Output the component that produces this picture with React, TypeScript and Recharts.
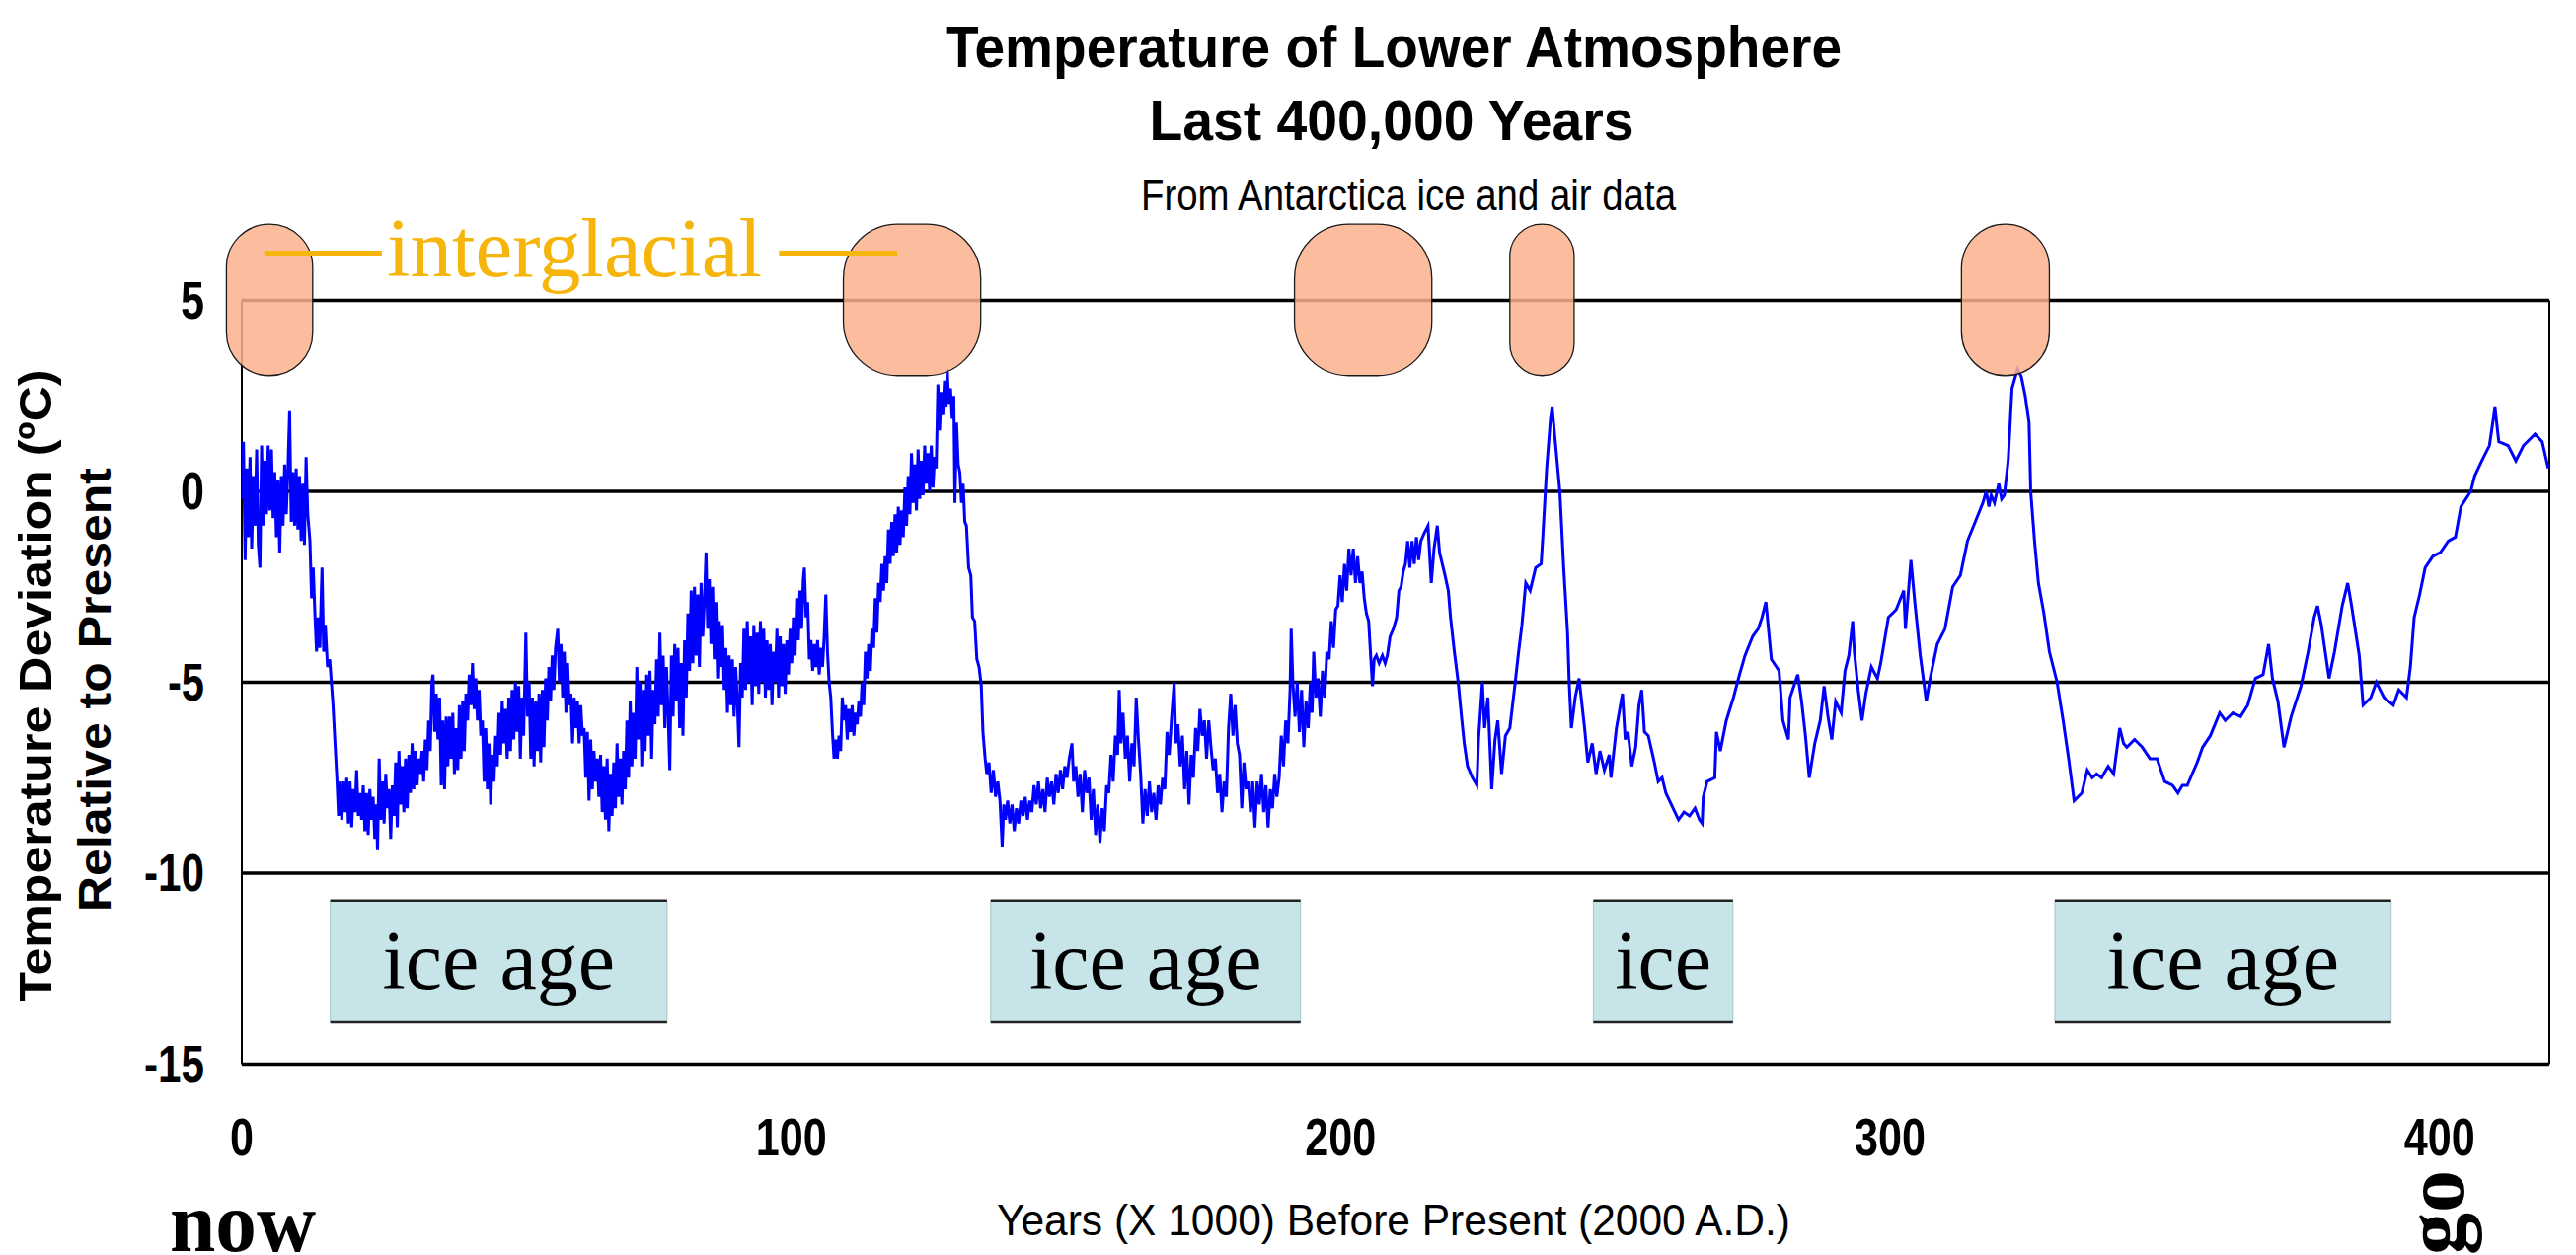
import { LineChart, Line, XAxis, YAxis, CartesianGrid, ReferenceArea, ReferenceLine } from 'recharts';

const W = 2610;
const H = 1272;
const SANS = "'Liberation Sans', Arial, Helvetica, sans-serif";
const SERIF = "'Liberation Serif', 'Times New Roman', serif";

// [thousand years before present, deviation in ºC]
const holocene: [number, number][] = [
  [0.0, -0.2], [0.3, 1.3], [0.6, -1.8], [0.9, 0.6], [1.2, -1.2], [1.5, 0.9], [1.8, -1.5], [2.1, 0.4], [2.4, -0.9], [2.7, 1.1],
  [3.0, -1.4], [3.3, -2.0], [3.6, 1.2], [3.9, -0.9], [4.2, 0.8], [4.5, -0.6], [4.8, 1.2], [5.1, -0.5], [5.4, 1.1], [5.7, -0.7],
  [6.0, 0.5], [6.3, -1.2], [6.6, 0.3], [6.9, -1.6], [7.2, 0.4], [7.5, -0.9], [7.8, 0.7], [8.1, -0.6], [8.4, 0.6], [8.7, 2.1],
  [9.0, -0.8], [9.3, 0.5], [9.6, -0.9], [9.9, 0.6], [10.2, -1.0], [10.5, 0.4], [10.8, -1.3], [11.1, 0.2], [11.4, -1.4], [11.7, 0.9],
  [12.0, -0.6],
];

const lastGlacial: [number, number][] = [
  [12.4, -1.3], [12.7, -2.8], [13.0, -2.0], [13.3, -3.2], [13.6, -4.2], [13.9, -3.3], [14.2, -4.1], [14.6, -2.0], [14.9, -4.2], [15.2, -3.5],
  [15.6, -4.6], [16.0, -4.4], [16.3, -5.0], [16.6, -5.6], [17.0, -6.7], [17.3, -7.5], [17.6, -8.5], [17.9, -7.6], [18.2, -8.6], [18.5, -7.6],
  [18.8, -8.4], [19.1, -7.5], [19.4, -8.7], [19.7, -7.6], [20.0, -8.8], [20.3, -7.8], [20.6, -8.4], [20.9, -7.3], [21.2, -8.5], [21.5, -7.9],
  [21.8, -8.6], [22.1, -7.7], [22.4, -8.9], [22.7, -7.9], [23.0, -9.0], [23.3, -7.8], [23.6, -8.6], [23.9, -8.0], [24.2, -9.1], [24.5, -8.2],
  [24.7, -9.4], [25.0, -7.0], [25.3, -8.6], [25.6, -7.6], [25.9, -8.7], [26.2, -7.4], [26.5, -8.3], [26.8, -7.8], [27.1, -9.1], [27.4, -7.7],
  [27.7, -8.5], [28.0, -7.1], [28.3, -8.8], [28.6, -6.8], [28.9, -8.2], [29.2, -7.2], [29.5, -8.4], [29.8, -7.0], [30.1, -8.3], [30.4, -6.9],
  [30.7, -7.9], [31.0, -6.6], [31.3, -7.8], [31.6, -6.8], [31.9, -7.7], [32.2, -7.0], [32.5, -7.4], [32.8, -6.8], [33.1, -7.6], [33.4, -6.5],
  [33.7, -7.3], [34.0, -6.0], [34.3, -6.8], [34.6, -5.0], [34.8, -4.8], [35.1, -6.3], [35.4, -5.3], [35.7, -6.5], [36.0, -5.4], [36.3, -7.7],
  [36.6, -6.0], [36.9, -7.8], [37.2, -5.9], [37.5, -7.2], [37.8, -5.9], [38.1, -7.0], [38.4, -5.8], [38.7, -7.4], [39.0, -6.2], [39.3, -7.3],
  [39.6, -5.6], [39.9, -7.0], [40.2, -5.5], [40.5, -6.8], [40.8, -5.3], [41.1, -6.0], [41.4, -4.8], [41.7, -5.6], [42.0, -4.5], [42.3, -5.7],
  [42.6, -4.9], [42.9, -6.0], [43.2, -5.2], [43.5, -6.4], [43.8, -6.0], [44.1, -7.6], [44.4, -6.2], [44.7, -7.8], [45.0, -6.6], [45.3, -8.2],
  [45.6, -6.9], [45.9, -7.6], [46.2, -6.4], [46.5, -7.2], [46.8, -5.8], [47.1, -6.9], [47.4, -5.5], [47.7, -6.6], [48.0, -5.7], [48.3, -7.0],
  [48.6, -5.4], [48.9, -6.8], [49.2, -5.2], [49.5, -6.5], [49.8, -5.0], [50.1, -6.3], [50.4, -5.1], [50.7, -7.0], [51.0, -5.4], [51.3, -6.4],
  [51.7, -3.7], [52.0, -5.9], [52.3, -5.0], [52.6, -7.0], [52.9, -5.4], [53.2, -7.2], [53.5, -5.5], [53.8, -6.8], [54.1, -5.3], [54.4, -7.1],
  [54.7, -5.2], [55.0, -6.7], [55.3, -4.9], [55.6, -6.0], [55.9, -4.6], [56.2, -5.5], [56.5, -4.3], [56.8, -5.2], [57.1, -4.1], [57.5, -3.6],
  [57.8, -5.0], [58.1, -4.0], [58.4, -5.4], [58.7, -4.2], [59.0, -5.8], [59.3, -4.5], [59.6, -5.6], [59.9, -5.3], [60.2, -6.6], [60.5, -5.4],
  [60.8, -6.2], [61.1, -5.5], [61.4, -6.6], [61.7, -5.6], [62.0, -6.4], [62.3, -6.2], [62.6, -7.5], [62.9, -6.3], [63.2, -8.1], [63.5, -6.5],
  [63.8, -7.8], [64.1, -6.8], [64.4, -7.6], [64.7, -7.0], [65.0, -8.0], [65.3, -6.9], [65.6, -8.4], [65.9, -7.2], [66.2, -8.6], [66.5, -7.0],
  [66.8, -8.9], [67.1, -7.4], [67.4, -8.5], [67.7, -7.1], [68.0, -8.3], [68.3, -6.6], [68.6, -8.0], [68.9, -7.0], [69.2, -8.2], [69.5, -6.8],
  [69.8, -7.8], [70.1, -6.0], [70.4, -7.5], [70.7, -5.5], [71.0, -7.2], [71.3, -5.8], [71.6, -7.0], [71.9, -4.6], [72.2, -6.5], [72.5, -5.0],
  [72.8, -7.2], [73.1, -5.2], [73.4, -6.8], [73.7, -4.8], [74.0, -6.4], [74.3, -4.7], [74.6, -7.0], [74.9, -5.2], [75.2, -6.1], [75.5, -4.4],
  [75.8, -5.9], [76.1, -3.7], [76.4, -5.6], [76.7, -4.3], [77.0, -6.2], [77.3, -4.6], [77.6, -5.8], [77.9, -7.3], [78.2, -4.3], [78.5, -5.9],
  [78.8, -4.0], [79.1, -5.5], [79.4, -4.1], [79.7, -6.2], [80.0, -4.5], [80.3, -6.4], [80.6, -3.9], [80.9, -5.4], [81.2, -3.2], [81.5, -4.7],
  [81.8, -2.6], [82.1, -4.5], [82.4, -2.5], [82.7, -4.3], [83.0, -2.7], [83.3, -4.6], [83.6, -2.4], [83.9, -3.8], [84.2, -2.9], [84.5, -1.6],
  [84.8, -3.6], [85.1, -2.3], [85.4, -4.0], [85.7, -2.5], [86.0, -4.4], [86.3, -2.9], [86.6, -4.9], [86.9, -3.4], [87.2, -4.6], [87.5, -3.5],
  [87.8, -5.2], [88.1, -4.1], [88.4, -5.8], [88.7, -4.3], [89.0, -5.6], [89.3, -4.4], [89.6, -5.9], [89.9, -4.6], [90.2, -5.5], [90.5, -6.7],
  [90.8, -4.5], [91.1, -5.4], [91.4, -3.6], [91.7, -5.2], [92.0, -3.4], [92.3, -5.0], [92.6, -3.8], [92.9, -5.6], [93.2, -3.5], [93.5, -5.1],
  [93.8, -3.7], [94.1, -5.3], [94.4, -3.4], [94.7, -5.0], [95.0, -3.6], [95.3, -5.4], [95.6, -3.9], [95.9, -5.2], [96.2, -4.0], [96.5, -5.6],
  [96.8, -4.2], [97.1, -5.0], [97.4, -3.6], [97.7, -5.4], [98.0, -3.8], [98.3, -5.1], [98.6, -4.0], [98.9, -5.3], [99.2, -3.9], [99.5, -4.8],
  [99.8, -3.6], [100.1, -4.5], [100.4, -3.3], [100.7, -4.3], [101.0, -2.8], [101.3, -3.9], [101.6, -2.6], [101.9, -3.6], [102.2, -2.3], [102.4, -2.0],
  [102.7, -3.3], [103.0, -2.9], [103.3, -4.4], [103.6, -3.9], [103.9, -4.7], [104.2, -4.0], [104.5, -4.6], [104.8, -3.9], [105.1, -4.8], [105.4, -4.1],
  [105.7, -4.6], [106.0, -3.8], [106.3, -2.7], [106.6, -4.2], [106.9, -5.0],
];

const eemian: [number, number][] = [
  [107.2, -5.4], [107.5, -6.3], [107.8, -7.0], [108.1, -6.5], [108.4, -7.0], [108.7, -6.4], [109.0, -6.8], [109.3, -5.4], [109.6, -6.0], [109.9, -5.6],
  [110.2, -6.5], [110.5, -5.7], [110.8, -6.3], [111.1, -5.6], [111.4, -6.4], [111.7, -5.8], [112.0, -6.1], [112.3, -5.5], [112.6, -5.9], [112.9, -5.0],
  [113.2, -5.6], [113.5, -4.2], [113.8, -4.9], [114.1, -4.0], [114.4, -4.7], [114.7, -3.6], [115.0, -4.1], [115.3, -2.8], [115.6, -3.7], [115.9, -2.4],
  [116.2, -2.9], [116.5, -1.9], [116.8, -2.6], [117.1, -1.7], [117.4, -2.4], [117.7, -1.0], [118.0, -1.9], [118.3, -0.8], [118.6, -1.7], [118.9, -0.6],
  [119.2, -1.6], [119.5, -0.4], [119.8, -1.4], [120.1, -0.5], [120.4, -1.2], [120.7, 0.1], [121.0, -0.9], [121.3, 0.4], [121.6, -0.6], [121.9, 1.0],
  [122.2, -0.3], [122.5, 0.7], [122.8, -0.5], [123.1, 1.1], [123.4, -0.2], [123.7, 0.8], [124.0, -0.1], [124.3, 1.2], [124.6, 0.2], [124.9, 1.0],
  [125.2, 0.0], [125.5, 1.2], [125.8, 0.1], [126.1, 0.9], [126.4, 0.6], [126.7, 2.8], [127.0, 1.6], [127.3, 2.6], [127.6, 2.0], [127.9, 2.9],
  [128.2, 2.2], [128.4, 3.2], [128.7, 2.3], [129.0, 2.7], [129.3, 1.9], [129.6, 2.5], [129.8, -0.3], [130.1, 1.8], [130.4, 0.7], [130.7, 0.5],
  [131.0, -0.3], [131.3, 0.2], [131.6, -0.8], [131.9, -0.9], [132.3, -2.0], [132.7, -2.2], [133.0, -3.3], [133.4, -3.4], [133.8, -4.4], [134.2, -4.6],
  [134.6, -5.1], [134.9, -6.3], [135.3, -7.0],
];

const penultimateGlacial: [number, number][] = [
  [135.6, -7.4], [136.0, -7.1], [136.4, -7.9], [136.8, -7.3], [137.2, -8.0], [137.6, -7.6], [138.0, -8.1], [138.4, -9.3], [138.7, -8.2], [139.0, -8.6],
  [139.4, -8.1], [139.8, -8.7], [140.2, -8.2], [140.6, -8.9], [141.0, -8.3], [141.4, -8.7], [141.8, -8.1], [142.2, -8.5], [142.6, -8.0], [143.0, -8.6],
  [143.4, -8.1], [143.8, -8.4], [144.2, -7.7], [144.6, -8.2], [145.0, -7.6], [145.4, -8.3], [145.8, -7.8], [146.2, -8.4], [146.6, -7.5], [147.0, -8.0],
  [147.4, -7.6], [147.8, -8.2], [148.2, -7.4], [148.6, -7.9], [149.0, -7.3], [149.4, -7.8], [149.8, -7.2], [150.2, -7.5], [150.6, -7.0], [151.1, -6.6],
  [151.4, -7.6], [151.8, -7.2], [152.2, -8.0], [152.6, -7.4], [153.0, -8.4], [153.4, -7.3], [153.8, -7.9], [154.2, -7.5], [154.6, -8.6], [155.0, -7.8],
  [155.4, -9.0], [155.8, -8.2], [156.2, -9.2], [156.6, -8.3], [157.0, -8.9], [157.4, -7.7], [157.8, -7.9], [158.2, -6.9], [158.6, -7.6], [159.0, -6.4],
  [159.4, -6.9], [159.7, -5.2], [160.0, -6.6], [160.4, -5.8], [160.8, -7.0], [161.2, -6.4], [161.6, -7.6], [162.0, -6.6], [162.4, -7.2], [162.8, -5.4],
  [163.2, -6.5], [163.6, -7.4], [164.0, -8.7], [164.4, -7.8], [164.8, -8.5], [165.2, -7.6], [165.6, -8.4], [166.0, -7.9], [166.4, -8.6], [166.8, -7.7],
  [167.2, -8.2], [167.6, -7.5], [168.0, -7.8], [168.4, -6.3], [168.8, -6.9], [169.2, -6.0], [169.7, -5.0], [170.0, -6.6], [170.4, -6.1], [170.8, -7.2],
  [171.2, -6.4], [171.6, -7.8], [172.0, -6.8], [172.4, -8.2], [172.8, -6.9], [173.2, -7.5], [173.6, -6.2], [174.0, -6.8], [174.4, -5.7], [174.8, -6.4],
  [175.2, -6.0], [175.6, -7.0], [176.0, -6.0], [176.4, -6.7], [176.8, -7.3], [177.2, -7.0], [177.6, -7.9], [178.0, -7.4], [178.4, -8.4], [178.8, -7.6],
  [179.2, -8.0], [179.6, -6.2], [180.0, -5.3], [180.4, -6.4], [180.8, -5.6], [181.2, -6.6], [181.6, -6.9], [182.0, -8.3], [182.4, -7.1], [182.8, -7.8],
  [183.2, -7.6], [183.6, -8.4], [184.0, -7.6], [184.4, -8.8], [184.8, -7.6], [185.2, -8.2], [185.6, -7.4], [186.0, -8.4], [186.4, -7.7], [186.8, -8.8],
  [187.2, -7.8], [187.6, -8.3], [188.0, -7.4], [188.4, -8.0], [188.8, -7.5], [189.2, -6.4], [189.6, -7.2], [190.0, -6.0], [190.4, -6.6], [190.8, -5.2],
  [191.0, -3.6], [191.3, -5.0], [191.7, -5.9], [192.1, -5.0], [192.5, -6.3], [192.9, -5.2], [193.3, -6.7], [193.7, -5.5], [194.1, -6.2], [194.5, -5.0],
  [194.8, -5.8], [195.1, -4.2], [195.5, -5.4], [195.9, -4.9], [196.3, -5.9], [196.7, -4.7], [197.1, -5.4], [197.5, -4.2], [197.9, -4.4], [198.3, -3.4],
  [198.7, -4.1], [199.1, -3.1], [199.5, -3.0], [199.9, -2.2], [200.3, -2.9], [200.7, -1.9], [201.1, -2.6], [201.5, -1.5], [201.9, -2.2], [202.3, -1.5],
  [202.7, -2.4],
];

const stage7: [number, number][] = [
  [203.1, -1.7], [203.5, -2.4], [203.9, -2.1], [204.3, -2.8], [204.7, -3.2], [205.1, -3.4], [205.5, -4.4], [205.8, -5.1], [206.1, -4.4], [206.5, -4.3],
  [207.0, -4.5], [207.6, -4.3], [208.1, -4.5], [208.5, -4.3], [209.0, -3.8], [209.6, -3.6], [210.2, -3.3], [210.6, -2.6], [211.0, -2.5], [211.4, -2.1],
  [211.8, -1.9], [212.2, -1.3], [212.6, -2.0], [213.0, -1.3], [213.4, -1.9], [213.8, -1.2], [214.2, -1.8], [214.6, -1.3], [215.2, -1.1], [215.9, -0.9],
  [216.5, -2.4], [217.0, -1.5], [217.6, -0.9], [218.0, -1.6], [219.0, -2.2], [219.6, -2.6], [220.0, -3.3], [220.7, -4.2], [221.4, -5.0], [222.0, -5.9],
  [222.5, -6.6], [223.1, -7.2], [224.0, -7.5], [224.8, -7.7], [225.1, -6.5], [225.8, -5.0], [226.2, -6.2], [226.8, -5.4], [227.5, -7.8], [228.1, -6.5],
  [228.6, -6.0], [229.3, -7.4], [230.0, -6.4], [230.8, -6.2], [231.7, -5.1], [232.4, -4.2], [233.0, -3.5], [233.7, -2.4], [234.5, -2.6], [235.5, -2.0],
  [236.5, -1.9], [236.8, -1.2], [237.5, 0.6], [238.2, 1.9], [238.5, 2.2], [239.2, 1.1], [239.9, 0.0], [240.6, -2.0], [241.3, -3.7], [241.6, -5.0],
  [242.0, -6.2], [242.7, -5.4], [243.4, -4.9], [244.4, -6.2],
];

const glacial3: [number, number][] = [
  [245.0, -7.1], [245.8, -6.6], [246.5, -7.4], [247.2, -6.8], [248.0, -7.3], [248.9, -6.9], [249.2, -7.5], [250.2, -6.2], [251.3, -5.3], [251.8, -6.5],
  [252.3, -6.3], [253.0, -7.2], [253.7, -6.7], [254.3, -5.6], [254.8, -5.2], [255.3, -6.3], [256.0, -6.4], [257.1, -7.1], [257.8, -7.6], [258.5, -7.5],
  [259.2, -7.9], [260.5, -8.3], [261.5, -8.6], [262.5, -8.4], [263.5, -8.5], [264.5, -8.3], [265.3, -8.6], [265.8, -8.7], [266.0, -8.0], [266.7, -7.6],
  [268.1, -7.5], [268.4, -6.3], [269.1, -6.8], [270.2, -6.0], [271.5, -5.4], [272.6, -4.8], [273.6, -4.3], [275.0, -3.8], [276.0, -3.6], [276.7, -3.3],
  [277.4, -2.9], [278.4, -4.4], [279.8, -4.7], [280.5, -6.0], [281.5, -6.5], [281.8, -5.4], [283.2, -4.8], [283.9, -5.5], [284.6, -6.4], [285.3, -7.5],
  [286.3, -6.6], [287.3, -6.0], [288.0, -5.1], [288.7, -5.9], [289.4, -6.5], [290.1, -5.5], [291.1, -5.8], [291.8, -4.7], [292.5, -4.3], [293.2, -3.4],
  [293.5, -4.2], [294.2, -5.2], [294.9, -6.0], [295.6, -5.3], [296.6, -4.6], [297.7, -4.9], [298.3, -4.5], [299.7, -3.3], [301.1, -3.1], [302.5, -2.6],
  [302.8, -3.6], [303.8, -1.8], [304.5, -2.9], [305.5, -4.3], [306.6, -5.5], [307.3, -4.9], [308.6, -4.0], [310.0, -3.6], [311.4, -2.5], [312.8, -2.2],
  [314.1, -1.3], [315.5, -0.8], [316.9, -0.3],
];

const stage9: [number, number][] = [
  [317.5, 0.0], [318.0, -0.4], [318.4, -0.1], [319.0, -0.3], [319.8, 0.2], [320.3, -0.2], [320.8, -0.1], [321.5, 0.8], [322.2, 2.7], [323.2, 3.2],
  [323.9, 3.0], [324.6, 2.5], [325.3, 1.8], [325.6, 0.0], [326.3, -1.3], [327.0, -2.4], [328.0, -3.2], [329.0, -4.2], [330.4, -5.0], [331.5, -6.0],
  [332.5, -7.0], [333.5, -8.1],
];

const glacial4: [number, number][] = [
  [334.9, -7.9], [335.9, -7.3], [336.8, -7.5], [337.6, -7.4], [338.5, -7.5], [339.7, -7.2], [340.7, -7.4], [341.8, -6.2], [342.5, -6.6], [343.1, -6.7],
  [344.5, -6.5], [345.9, -6.7], [347.3, -7.0], [348.6, -7.0], [350.0, -7.6], [351.4, -7.7], [352.4, -7.9], [353.2, -7.7], [354.1, -7.7], [355.9, -7.1],
  [356.9, -6.7], [358.3, -6.4], [360.0, -5.8], [361.0, -6.0], [362.4, -5.8], [363.8, -5.9], [365.1, -5.6], [366.5, -4.9], [367.9, -4.8], [368.9, -4.0],
  [369.6, -4.9], [370.6, -5.5], [371.7, -6.7], [373.0, -5.9], [374.8, -5.1], [376.1, -4.2], [377.2, -3.3], [377.8, -3.0], [378.5, -3.5], [379.9, -4.9],
  [380.9, -4.2], [382.3, -3.0], [383.3, -2.4], [384.0, -3.0], [385.4, -4.3], [386.1, -5.6], [387.5, -5.4], [388.5, -5.0], [389.9, -5.4], [391.6, -5.6],
  [392.6, -5.2], [394.0, -5.4],
];

const stage11: [number, number][] = [
  [394.7, -4.6], [395.4, -3.3], [396.4, -2.7], [397.4, -2.0], [398.8, -1.7], [400.2, -1.6], [401.6, -1.3], [402.9, -1.2], [403.9, -0.4], [405.7, 0.0],
  [406.4, 0.4], [407.7, 0.8], [409.1, 1.2], [410.1, 2.2], [410.8, 1.3], [412.5, 1.2], [413.9, 0.8], [415.3, 1.2], [417.4, 1.5], [418.7, 1.3],
  [419.8, 0.6],
];

const yearTicks = [0, 100, 200, 300, 400];
const tempTicks = [-15, -10, -5, 0, 5];

// warm peaks marked with salmon ovals, in kyr, and their vertical band in ºC
const interglacials: [number, number][] = [[-2.8, 12.9], [109.5, 134.5], [191.6, 216.6], [230.8, 242.5], [313, 329]];
const interglacialBand: [number, number] = [3.03, 7.0];
// the yellow connector dashes either side of the word "interglacial"
const connectors: [number, number][] = [[4.1, 25.5], [97.8, 119.3]];
const connectorLevel = 6.24;

const iceAgeLabels = ['ice age', 'ice age', 'ice', 'ice age'];
const iceAgeSpans: [number, number][] = [[16.1, 77.4], [136.3, 192.7], [246, 271.4], [330, 391.2]];
const iceBand: [number, number] = [-13.9, -10.72];

const series = [...holocene, ...lastGlacial, ...eemian, ...penultimateGlacial, ...stage7, ...glacial3, ...stage9, ...glacial4, ...stage11]
  .map(([age, t]) => ({ age, t }));

const tickWidth = (s: string) => s.replace('-', '').length * 24 + (s.startsWith('-') ? 13 : 0);

const YTick = ({ x, y, payload }: any) => {
  const s = String(payload.value);
  return (
    <text x={x - 38} y={y + 18} textAnchor="end" fontFamily={SANS} fontWeight="bold" fontSize={54} fill="#000"
      textLength={tickWidth(s)} lengthAdjust="spacingAndGlyphs">{s}</text>
  );
};

const XTick = ({ x, y, payload }: any) => {
  const s = String(payload.value);
  return (
    <text x={x} y={y + 92} textAnchor="middle" fontFamily={SANS} fontWeight="bold" fontSize={54} fill="#000"
      textLength={tickWidth(s)} lengthAdjust="spacingAndGlyphs">{s}</text>
  );
};

const Oval = (p: any) => {
  const r = Math.min(p.width / 2, 55);
  return (
    <rect x={p.x} y={p.y} width={p.width} height={p.height} rx={r} ry={r}
      fill="#FCB28E" fillOpacity={0.85} stroke="#1a1a1a" strokeWidth={1.3} />
  );
};

const iceBox = (label: string) => (p: any) => (
  <g>
    <rect x={p.x} y={p.y} width={p.width} height={p.height} fill="#C7E5E9" stroke="#A6C4C8" strokeWidth={1} />
    <line x1={p.x} x2={p.x + p.width} y1={p.y} y2={p.y} stroke="#222" strokeWidth={2.5} />
    <line x1={p.x} x2={p.x + p.width} y1={p.y + p.height} y2={p.y + p.height} stroke="#222" strokeWidth={2.5} />
    <text x={p.x + p.width / 2} y={p.y + 89} textAnchor="middle" fontFamily={SERIF} fontSize={84} fill="#000">{label}</text>
  </g>
);

export default function App() {
  return (
    <div style={{ position: 'absolute', left: 0, top: 0, width: W, height: H, background: '#fff', overflow: 'hidden' }}>
      <LineChart width={W} height={H} data={series} margin={{ top: 304.5, right: 27, bottom: 133.5, left: 145 }}>
        <CartesianGrid vertical={false} stroke="#000" strokeWidth={3.5} />
        <XAxis dataKey="age" type="number" domain={[0, 420]} ticks={yearTicks} interval={0} allowDataOverflow
          axisLine={false} tickLine={false} tickSize={0} tickMargin={0} height={60} tick={XTick} />
        <YAxis type="number" domain={[-15, 5]} ticks={tempTicks} interval={0} allowDataOverflow
          axisLine={false} tickLine={false} tickSize={0} tickMargin={0} width={100} tick={YTick} />
        <ReferenceLine x={0} stroke="#000" strokeWidth={2} />
        <ReferenceLine x={420} stroke="#000" strokeWidth={2} />
        {iceAgeSpans.map(([a, b], i) => (
          <ReferenceArea key={'ice' + i} x1={a} x2={b} y1={iceBand[0]} y2={iceBand[1]} ifOverflow="visible"
            shape={iceBox(iceAgeLabels[i])} />
        ))}
        <Line type="linear" dataKey="t" stroke="#0000FF" strokeWidth={3} dot={false} activeDot={false} isAnimationActive={false} />
        {interglacials.map(([a, b], i) => (
          <ReferenceArea key={'ig' + i} x1={a} x2={b} y1={interglacialBand[0]} y2={interglacialBand[1]}
            ifOverflow="visible" shape={Oval} zIndex={1500} />
        ))}
        {connectors.map(([a, b], i) => (
          <ReferenceLine key={'c' + i} segment={[{ x: a, y: connectorLevel }, { x: b, y: connectorLevel }]}
            ifOverflow="visible" stroke="#F5B50A" strokeWidth={5} zIndex={1600} />
        ))}
      </LineChart>
      <svg width={W} height={H} style={{ position: 'absolute', left: 0, top: 0, pointerEvents: 'none' }}>
        <text x={1412} y={68} textAnchor="middle" fontFamily={SANS} fontWeight="bold" fontSize={60}
          textLength={908} lengthAdjust="spacingAndGlyphs">Temperature of Lower Atmosphere</text>
        <text x={1410} y={142} textAnchor="middle" fontFamily={SANS} fontWeight="bold" fontSize={58}
          textLength={491} lengthAdjust="spacingAndGlyphs">Last 400,000 Years</text>
        <text x={1427} y={213} textAnchor="middle" fontFamily={SANS} fontSize={44}
          textLength={542} lengthAdjust="spacingAndGlyphs">From Antarctica ice and air data</text>
        <text x={392} y={280} fontFamily={SERIF} fontSize={84} fill="#F5B50A"
          textLength={380} lengthAdjust="spacingAndGlyphs">interglacial</text>
        <text x={52} y={695} transform="rotate(-90 52 695)" textAnchor="middle" fontFamily={SANS} fontWeight="bold" fontSize={46}
          textLength={641} lengthAdjust="spacingAndGlyphs">Temperature Deviation (ºC)</text>
        <text x={112} y={699} transform="rotate(-90 112 699)" textAnchor="middle" fontFamily={SANS} fontWeight="bold" fontSize={46}
          textLength={450} lengthAdjust="spacingAndGlyphs">Relative to Present</text>
        <text x={1412} y={1252} textAnchor="middle" fontFamily={SANS} fontSize={44}
          textLength={804} lengthAdjust="spacingAndGlyphs">Years (X 1000) Before Present (2000 A.D.)</text>
        <text x={172} y={1268} fontFamily={SERIF} fontWeight="bold" fontSize={86}
          textLength={148} lengthAdjust="spacingAndGlyphs">now</text>
        <text x={2496} y={1186} transform="rotate(-90 2496 1186)" textAnchor="end" fontFamily={SERIF} fontWeight="bold" fontSize={86}>ago</text>
      </svg>
    </div>
  );
}
